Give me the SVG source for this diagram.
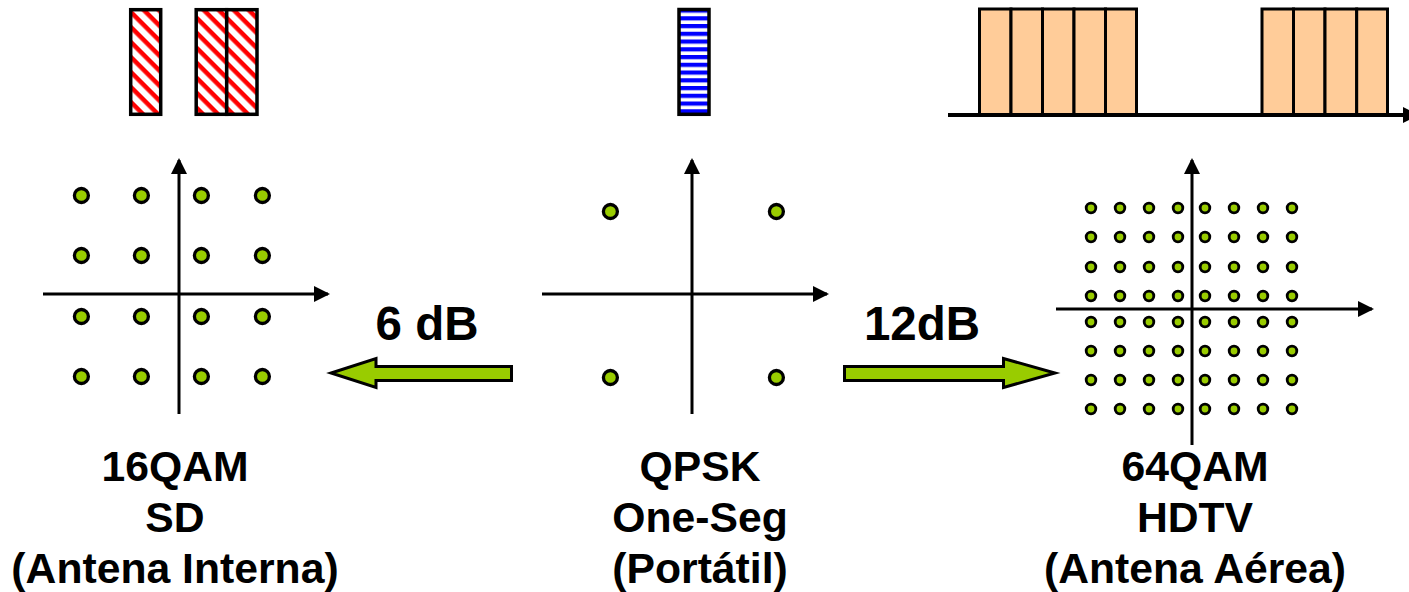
<svg xmlns="http://www.w3.org/2000/svg" width="1409" height="592" viewBox="0 0 1409 592">
<style>
text{font-family:"Liberation Sans",Arial,sans-serif;font-weight:700;fill:#000;text-anchor:middle}
.cap{font-size:42.700px}
.db{font-size:47.500px}
.ax{stroke:#000;stroke-width:3;fill:none}
.dl{fill:#99cc00;stroke:#000;stroke-width:3.300}
.ds{fill:#99cc00;stroke:#000;stroke-width:2.800}
.r{fill:url(#red);stroke:#000;stroke-width:3.500}
.b{fill:url(#blue);stroke:#000;stroke-width:3.500}
.o{fill:#ffcc99;stroke:#000;stroke-width:3}
.ga{fill:#99cc00;stroke:#000;stroke-width:3}
</style>
<defs>
<pattern id="red" width="10.600" height="10.600" patternUnits="userSpaceOnUse" patternTransform="translate(130 8) rotate(45)"><rect width="10.600" height="10.600" fill="#fff"/><rect width="10.600" height="4.500" fill="#f00"/></pattern>
<pattern id="blue" width="8" height="7.750" patternUnits="userSpaceOnUse" patternTransform="translate(678 8.500)"><rect width="8" height="7.750" fill="#fff"/><rect width="8" height="4.200" fill="#00f"/></pattern>
<marker id="ah" markerUnits="userSpaceOnUse" markerWidth="16" markerHeight="16" refX="14" refY="8" orient="auto"><path d="M0 0L16 8L0 16z" fill="#000"/></marker>
</defs>
<g id="sp16">
<rect class="r" x="130.700" y="9.700" width="30" height="104.600"/>
<rect class="r" x="196.200" y="9.700" width="30.500" height="104.600"/>
<rect class="r" x="226.700" y="9.700" width="30.300" height="104.600"/>
</g>
<g id="spq"><rect class="b" x="679" y="9.500" width="30" height="104.800"/></g>
<g id="sp64">
<rect class="o" x="979.500" y="9" width="31.500" height="106"/>
<rect class="o" x="1011" y="9" width="31.500" height="106"/>
<rect class="o" x="1042.500" y="9" width="31.500" height="106"/>
<rect class="o" x="1074" y="9" width="31.500" height="106"/>
<rect class="o" x="1105.500" y="9" width="31" height="106"/>
<rect class="o" x="1262" y="9" width="31.500" height="106"/>
<rect class="o" x="1293.500" y="9" width="31.500" height="106"/>
<rect class="o" x="1325" y="9" width="31.700" height="106"/>
<rect class="o" x="1356.700" y="9" width="30.800" height="106"/>
</g>
<g id="connectors">
<path d="M948 115H1405" stroke="#000" stroke-width="4" fill="none"/>
<path d="M1403 107L1419 115L1403 123z" fill="#000"/>
<path class="ax" marker-end="url(#ah)" d="M179 414V160"/>
<path class="ax" marker-end="url(#ah)" d="M43 294H328"/>
<path class="ax" marker-end="url(#ah)" d="M692 414V160"/>
<path class="ax" marker-end="url(#ah)" d="M542 294H827"/>
<path class="ax" marker-end="url(#ah)" d="M1192 445V160"/>
<path class="ax" marker-end="url(#ah)" d="M1056 309H1372"/>
<path class="ga" d="M511.500 366.500H376V358.500L331 373L376 387.500V380.500H511.500z"/>
<path class="ga" d="M844.500 366.500H1003.500V358.500L1055 373L1003.500 387.500V380.500H844.500z"/>
</g>
<g id="n16qam">
<g transform="translate(0.400 0.500)">
<circle class="dl" cx="81" cy="195" r="7"/><circle class="dl" cx="141" cy="195" r="7"/><circle class="dl" cx="201" cy="195" r="7"/><circle class="dl" cx="262" cy="195" r="7"/>
<circle class="dl" cx="81" cy="255" r="7"/><circle class="dl" cx="141" cy="255" r="7"/><circle class="dl" cx="201" cy="255" r="7"/><circle class="dl" cx="262" cy="255" r="7"/>
<circle class="dl" cx="81" cy="316" r="7"/><circle class="dl" cx="141" cy="316" r="7"/><circle class="dl" cx="201" cy="316" r="7"/><circle class="dl" cx="262" cy="316" r="7"/>
<circle class="dl" cx="81" cy="376" r="7"/><circle class="dl" cx="141" cy="376" r="7"/><circle class="dl" cx="201" cy="376" r="7"/><circle class="dl" cx="262" cy="376" r="7"/>
</g>
<text class="cap" x="175" y="481">16QAM</text><text class="cap" x="175" y="532">SD</text><text class="cap" x="175" y="583">(Antena Interna)</text>
</g>
<g id="nqpsk">
<g transform="translate(0.400 0.500)">
<circle class="dl" cx="610" cy="211" r="7"/><circle class="dl" cx="776" cy="211" r="7"/><circle class="dl" cx="610" cy="377" r="7"/><circle class="dl" cx="776" cy="377" r="7"/>
</g>
<text class="cap" x="700" y="481">QPSK</text><text class="cap" x="700" y="532">One-Seg</text><text class="cap" x="700" y="583">(Portátil)</text>
</g>
<g id="n64qam">
<circle class="ds" cx="1091" cy="208" r="4.800"/><circle class="ds" cx="1120" cy="208" r="4.800"/><circle class="ds" cx="1149" cy="208" r="4.800"/><circle class="ds" cx="1178" cy="208" r="4.800"/><circle class="ds" cx="1205" cy="208" r="4.800"/><circle class="ds" cx="1234" cy="208" r="4.800"/><circle class="ds" cx="1263" cy="208" r="4.800"/><circle class="ds" cx="1292" cy="208" r="4.800"/>
<circle class="ds" cx="1091" cy="237" r="4.800"/><circle class="ds" cx="1120" cy="237" r="4.800"/><circle class="ds" cx="1149" cy="237" r="4.800"/><circle class="ds" cx="1178" cy="237" r="4.800"/><circle class="ds" cx="1205" cy="237" r="4.800"/><circle class="ds" cx="1234" cy="237" r="4.800"/><circle class="ds" cx="1263" cy="237" r="4.800"/><circle class="ds" cx="1292" cy="237" r="4.800"/>
<circle class="ds" cx="1091" cy="267" r="4.800"/><circle class="ds" cx="1120" cy="267" r="4.800"/><circle class="ds" cx="1149" cy="267" r="4.800"/><circle class="ds" cx="1178" cy="267" r="4.800"/><circle class="ds" cx="1205" cy="267" r="4.800"/><circle class="ds" cx="1234" cy="267" r="4.800"/><circle class="ds" cx="1263" cy="267" r="4.800"/><circle class="ds" cx="1292" cy="267" r="4.800"/>
<circle class="ds" cx="1091" cy="296" r="4.800"/><circle class="ds" cx="1120" cy="296" r="4.800"/><circle class="ds" cx="1149" cy="296" r="4.800"/><circle class="ds" cx="1178" cy="296" r="4.800"/><circle class="ds" cx="1205" cy="296" r="4.800"/><circle class="ds" cx="1234" cy="296" r="4.800"/><circle class="ds" cx="1263" cy="296" r="4.800"/><circle class="ds" cx="1292" cy="296" r="4.800"/>
<circle class="ds" cx="1091" cy="322" r="4.800"/><circle class="ds" cx="1120" cy="322" r="4.800"/><circle class="ds" cx="1149" cy="322" r="4.800"/><circle class="ds" cx="1178" cy="322" r="4.800"/><circle class="ds" cx="1205" cy="322" r="4.800"/><circle class="ds" cx="1234" cy="322" r="4.800"/><circle class="ds" cx="1263" cy="322" r="4.800"/><circle class="ds" cx="1292" cy="322" r="4.800"/>
<circle class="ds" cx="1091" cy="351" r="4.800"/><circle class="ds" cx="1120" cy="351" r="4.800"/><circle class="ds" cx="1149" cy="351" r="4.800"/><circle class="ds" cx="1178" cy="351" r="4.800"/><circle class="ds" cx="1205" cy="351" r="4.800"/><circle class="ds" cx="1234" cy="351" r="4.800"/><circle class="ds" cx="1263" cy="351" r="4.800"/><circle class="ds" cx="1292" cy="351" r="4.800"/>
<circle class="ds" cx="1091" cy="380" r="4.800"/><circle class="ds" cx="1120" cy="380" r="4.800"/><circle class="ds" cx="1149" cy="380" r="4.800"/><circle class="ds" cx="1178" cy="380" r="4.800"/><circle class="ds" cx="1205" cy="380" r="4.800"/><circle class="ds" cx="1234" cy="380" r="4.800"/><circle class="ds" cx="1263" cy="380" r="4.800"/><circle class="ds" cx="1292" cy="380" r="4.800"/>
<circle class="ds" cx="1091" cy="409" r="4.800"/><circle class="ds" cx="1120" cy="409" r="4.800"/><circle class="ds" cx="1149" cy="409" r="4.800"/><circle class="ds" cx="1178" cy="409" r="4.800"/><circle class="ds" cx="1205" cy="409" r="4.800"/><circle class="ds" cx="1234" cy="409" r="4.800"/><circle class="ds" cx="1263" cy="409" r="4.800"/><circle class="ds" cx="1292" cy="409" r="4.800"/>
<text class="cap" x="1195" y="481">64QAM</text><text class="cap" x="1195" y="532">HDTV</text><text class="cap" x="1195" y="583">(Antena Aérea)</text>
</g>
<text class="db" x="427" y="339.500">6 dB</text>
<text class="db" x="922" y="339.500">12dB</text>
</svg>
